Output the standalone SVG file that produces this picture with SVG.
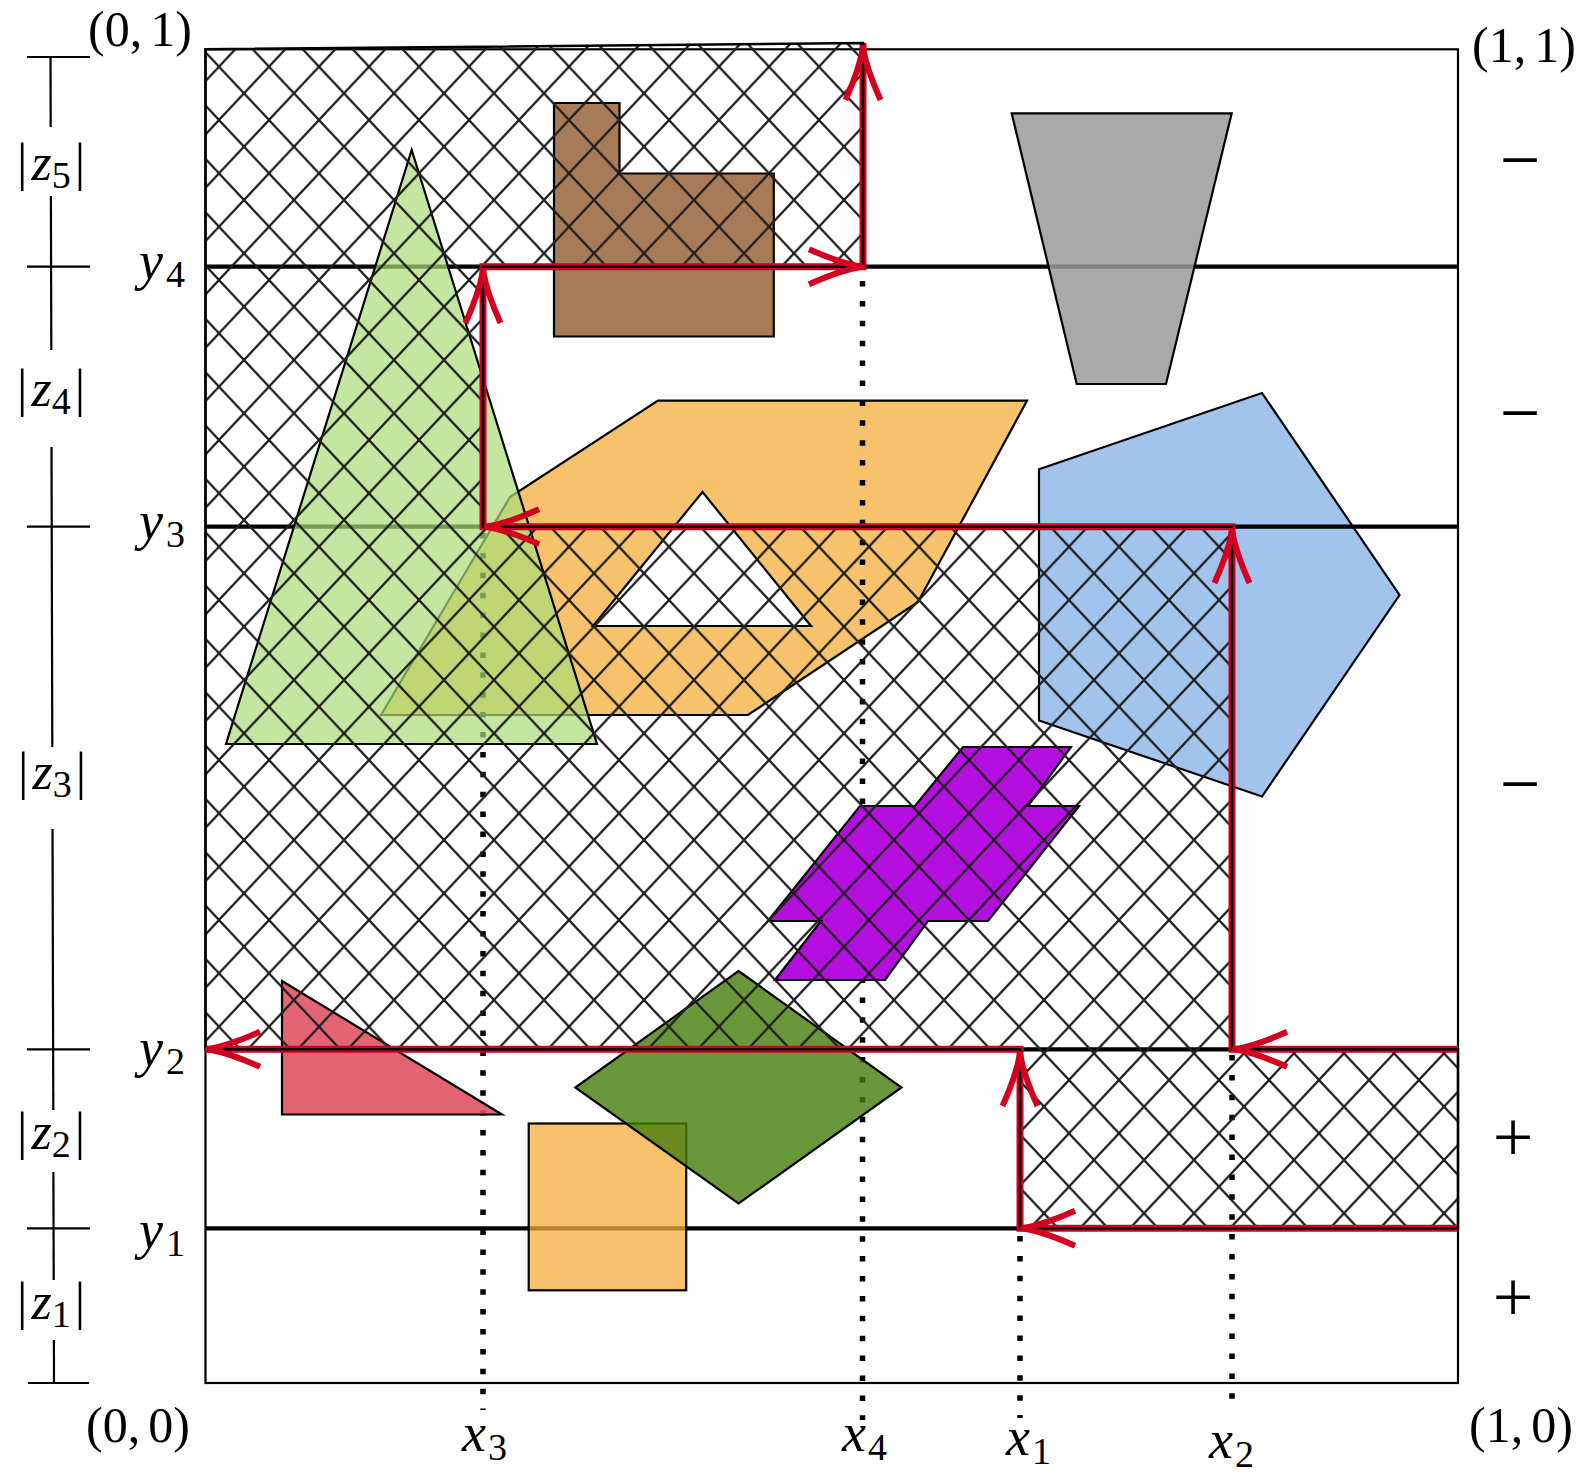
<svg xmlns="http://www.w3.org/2000/svg" width="1582" height="1475" viewBox="0 0 1582 1475">
<style>
.ln{stroke:#000;stroke-width:4.2;fill:none}
.dot{stroke:#000;stroke-width:5.5;stroke-dasharray:5.5 14.4;fill:none}
.sh{stroke:#000;stroke-width:2.2}
.red{stroke:#d4001f;stroke-width:7;fill:none;stroke-linejoin:miter}
.sc{stroke:#000;stroke-width:2.2;fill:none}
.t{font-family:"Liberation Serif","Times New Roman",serif;font-size:50px;fill:#000}
.v{font-family:"Liberation Serif","Times New Roman",serif;font-size:54px;font-style:italic;fill:#000}
.s{font-size:38px;font-style:normal}
.zz{font-size:52px}
.sg{font-family:"Liberation Serif","Times New Roman",serif;font-size:72px;text-anchor:middle;fill:#000}
</style>
<defs>
<pattern id="hatch" patternUnits="userSpaceOnUse" x="19" y="13.333" width="50" height="53.333">
<path d="M-50,-53.333 L100,106.667 M0,-53.333 L100,53.333 M-50,0 L50,106.667 M100,-53.333 L-50,106.667 M-50,53.333 L50,-53.333 M0,106.667 L100,0" stroke="#1e1e1e" stroke-width="2.2" fill="none"/>
</pattern>
<path id="chev" d="M-52,-17.5 Q-22,-4 0,0 Q-22,4 -52,17.5" fill="none" stroke="#d4001f" stroke-width="6" stroke-linejoin="round"/>
</defs>
<rect width="1582" height="1475" fill="#fff"/>

<g id="under-shapes">
<path id="orange-hexagon" class="sh" fill="#f6c36c" fill-rule="evenodd" d="M658,400.7 L1027,400.7 L918,602 L748,715 L381,715 L510,497 Z M702.5,492 L811,626 L593,626 Z"/>
<polygon id="blue-pentagon" class="sh" fill="#a2c4ec" points="1039,469.3 1262,393 1399.5,595 1262,796.5 1039,720.5"/>
</g>

<g id="grid">
<rect x="205.5" y="49.3" width="1252.5" height="1333.7" fill="none" stroke="#000" stroke-width="2.2"/>
<line class="ln" x1="205.5" y1="266.7" x2="1458" y2="266.7"/>
<line class="ln" x1="205.5" y1="526.7" x2="1458" y2="526.7"/>
<line class="ln" x1="205.5" y1="1049.3" x2="1458" y2="1049.3"/>
<line class="ln" x1="205.5" y1="1228.3" x2="1458" y2="1228.3"/>
<line class="dot" x1="483" y1="533" x2="483" y2="1410"/>
<line class="dot" x1="862.5" y1="281" x2="862.5" y2="1420"/>
<line class="dot" x1="1020" y1="1236" x2="1020" y2="1418"/>
<line class="dot" x1="1232" y1="1055" x2="1232" y2="1404"/>
</g>

<g id="shapes">
<polygon id="green-triangle" class="sh" fill="#aadd77" fill-opacity="0.7" points="411.7,150 597,744 226,744"/>
<polygon id="brown-L" class="sh" fill="#a0714a" fill-opacity="0.93" points="554,103 619.5,103 619.5,173.5 773.8,173.5 773.8,336.5 554,336.5"/>
<polygon id="gray-trapezoid" class="sh" fill="#9a9a9a" fill-opacity="0.85" points="1011.7,113.3 1231.7,113.3 1166,384 1076.7,384"/>
<polygon id="purple-cross" class="sh" fill="#b50fdf" points="963,747 1071,747 1028,806 1079,806 988,921 928,921 885,980 775,980 821,921 768,921 860,806 915,806"/>
<polygon id="red-triangle" class="sh" fill="#e05464" fill-opacity="0.9" points="282,981 282,1114.5 502,1114.5"/>
<rect id="orange-square" class="sh" x="528.7" y="1123.5" width="157.5" height="166.8" fill="#f3af3b" fill-opacity="0.75"/>
<polygon id="green-diamond" class="sh" fill="#467d0a" fill-opacity="0.8" points="738.5,971 901.5,1087.5 738.5,1203.5 575.3,1087.5"/>
</g>

<g id="swept-region">
<polygon fill="url(#hatch)" points="205.5,49.3 863,43 863,266.7 483,266.7 483,526.7 1232,526.7 1232,1049.3 1458,1049.3 1458,1228.3 1020,1228.3 1020,1049.3 205.5,1049.3"/>
</g>

<g id="connectors">
<path class="red" d="M1458,1049.3 H1232 V526.7 H483 V266.7 H863 V43"/>
<path class="red" d="M1458,1228.3 H1020 V1049.3 H205.5"/>
<polygon fill="none" stroke="#000" stroke-width="2.5" points="205.5,49.3 863,43 863,266.7 483,266.7 483,526.7 1232,526.7 1232,1049.3 1458,1049.3 1458,1228.3 1020,1228.3 1020,1049.3 205.5,1049.3"/>
<use href="#chev" transform="translate(863,48) rotate(-90)"/>
<use href="#chev" transform="translate(861,266.7)"/>
<use href="#chev" transform="translate(483,271) rotate(-90)"/>
<use href="#chev" transform="translate(487,526.7) rotate(180)"/>
<use href="#chev" transform="translate(1232,531) rotate(-90)"/>
<use href="#chev" transform="translate(1235,1049.3) rotate(180)"/>
<use href="#chev" transform="translate(1023,1228.3) rotate(180)"/>
<use href="#chev" transform="translate(1020,1054) rotate(-90)"/>
<use href="#chev" transform="translate(208,1049.3) rotate(180)"/>
</g>

<g id="scale">
<line class="sc" x1="50.5" y1="57" x2="50.7" y2="127"/>
<line class="sc" x1="50.9" y1="196" x2="51.3" y2="350"/>
<line class="sc" x1="51.5" y1="447" x2="52.3" y2="747"/>
<line class="sc" x1="52.5" y1="829" x2="53.3" y2="1110"/>
<line class="sc" x1="53.4" y1="1172" x2="53.7" y2="1280"/>
<line class="sc" x1="53.9" y1="1340" x2="54" y2="1383"/>
<line class="sc" x1="27" y1="57" x2="90" y2="57"/>
<line class="sc" x1="27" y1="266.7" x2="90" y2="266.7"/>
<line class="sc" x1="27" y1="526.7" x2="90" y2="526.7"/>
<line class="sc" x1="27" y1="1049.3" x2="90" y2="1049.3"/>
<line class="sc" x1="27" y1="1228.3" x2="90" y2="1228.3"/>
<line class="sc" x1="28" y1="1383" x2="89" y2="1383"/>
</g>

<g id="labels">
<text class="t" x="88" y="46">(0,<tspan dx="8">1)</tspan></text>
<text class="t" x="1472" y="62">(1,<tspan dx="8">1)</tspan></text>
<text class="t" x="86" y="1442">(0,<tspan dx="8">0)</tspan></text>
<text class="t" x="1469" y="1442">(1,<tspan dx="8">0)</tspan></text>

<text class="t zz" x="17" y="180">|<tspan font-style="italic" dx="4">z</tspan><tspan class="s" dy="8">5</tspan><tspan dx="4" dy="-8">|</tspan></text>
<text class="t zz" x="17" y="406">|<tspan font-style="italic" dx="4">z</tspan><tspan class="s" dy="8">4</tspan><tspan dx="4" dy="-8">|</tspan></text>
<text class="t zz" x="18" y="789">|<tspan font-style="italic" dx="4">z</tspan><tspan class="s" dy="8">3</tspan><tspan dx="4" dy="-8">|</tspan></text>
<text class="t zz" x="17" y="1149">|<tspan font-style="italic" dx="4">z</tspan><tspan class="s" dy="8">2</tspan><tspan dx="4" dy="-8">|</tspan></text>
<text class="t zz" x="17" y="1319">|<tspan font-style="italic" dx="4">z</tspan><tspan class="s" dy="8">1</tspan><tspan dx="4" dy="-8">|</tspan></text>

<text class="v" x="139" y="279">y<tspan class="s" dx="3" dy="8">4</tspan></text>
<text class="v" x="139" y="539">y<tspan class="s" dx="3" dy="8">3</tspan></text>
<text class="v" x="139" y="1066">y<tspan class="s" dx="3" dy="8">2</tspan></text>
<text class="v" x="139" y="1248">y<tspan class="s" dx="3" dy="8">1</tspan></text>

<text class="v" x="462" y="1451">x<tspan class="s" dx="2" dy="9">3</tspan></text>
<text class="v" x="842" y="1451">x<tspan class="s" dx="2" dy="9">4</tspan></text>
<text class="v" x="1006" y="1455">x<tspan class="s" dx="2" dy="9">1</tspan></text>
<text class="v" x="1209" y="1458">x<tspan class="s" dx="2" dy="9">2</tspan></text>

<text class="sg" x="1520" y="184">−</text>
<text class="sg" x="1520" y="437">−</text>
<text class="sg" x="1520" y="808">−</text>
<text class="sg" x="1513" y="1161">+</text>
<text class="sg" x="1513" y="1321">+</text>
</g>
</svg>
